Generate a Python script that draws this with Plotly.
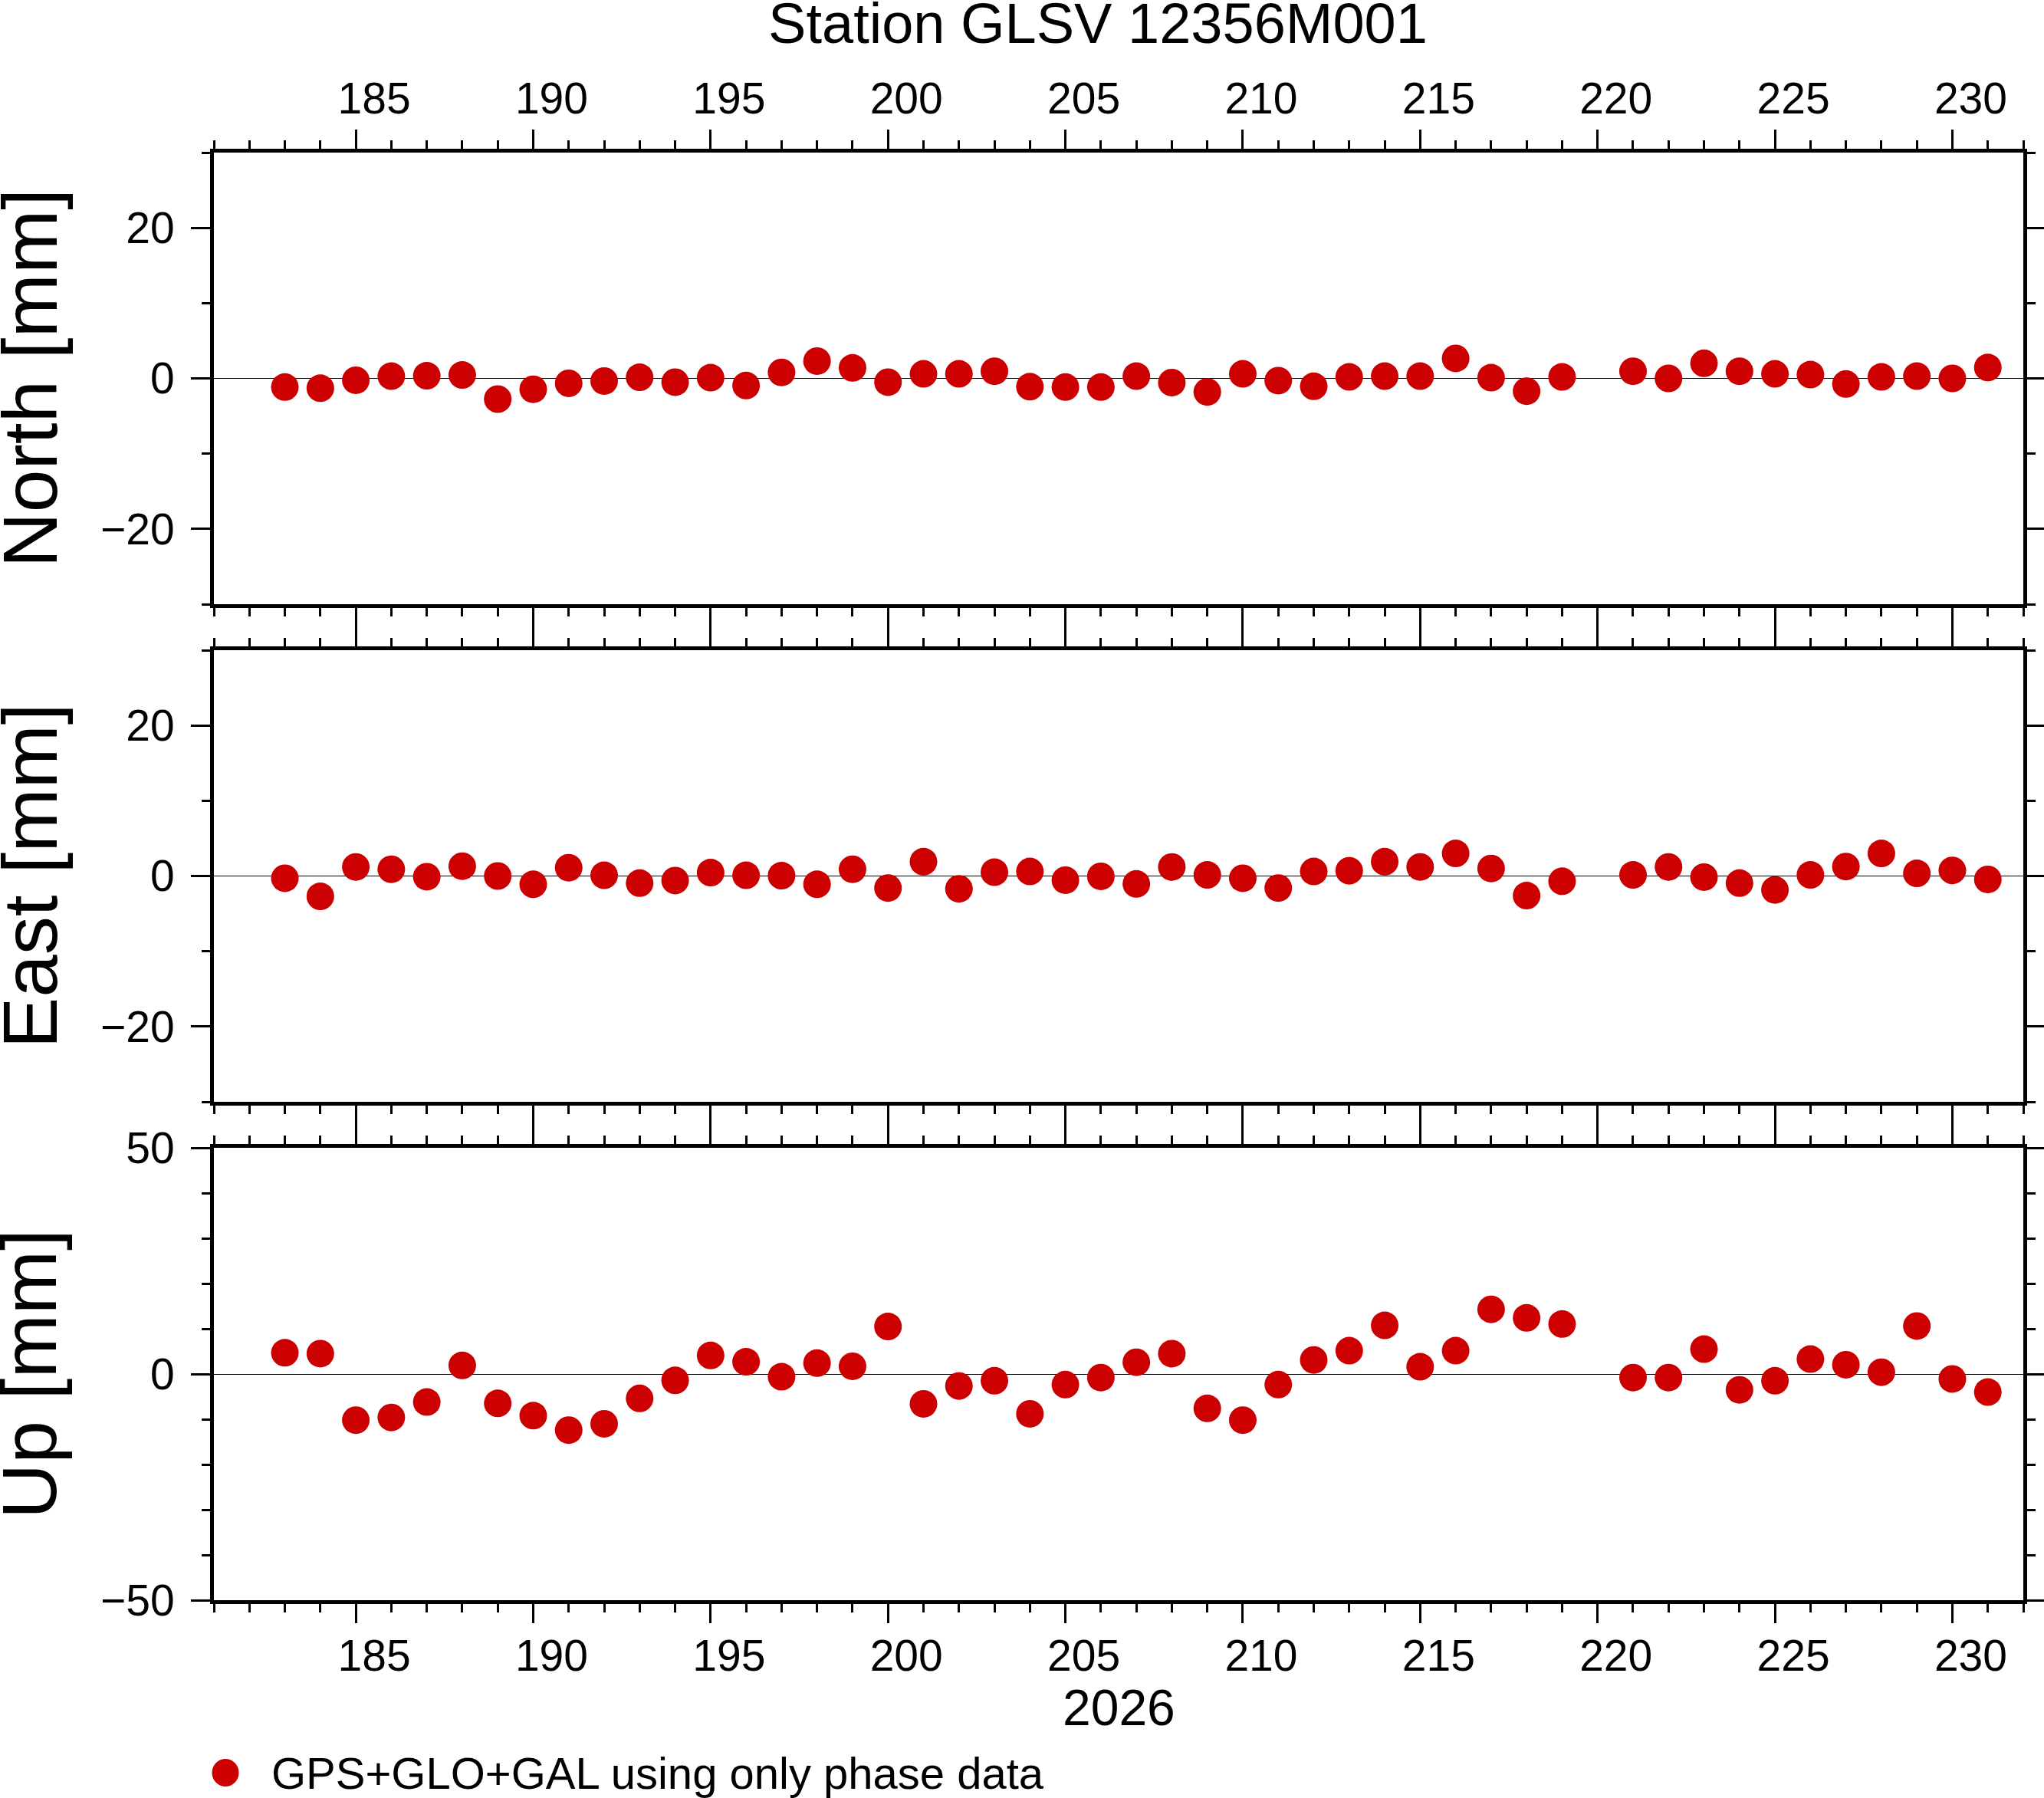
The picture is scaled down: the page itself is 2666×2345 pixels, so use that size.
import plotly.graph_objects as go
from plotly.subplots import make_subplots

# day of year 2026 (day 220 missing)
doy = list(range(183, 220)) + list(range(221, 232))

north = [-1.15, -1.3, -0.25, 0.3, 0.35, 0.45, -2.75, -1.45, -0.65, -0.35,
         0.15, -0.5, 0.1, -0.95, 0.8, 2.3, 1.4, -0.5, 0.6, 0.6,
         0.95, -1.1, -1.15, -1.15, 0.3, -0.55, -1.8, 0.6, -0.3, -1.05,
         0.2, 0.3, 0.3, 2.65, 0.1, -1.7, 0.2,
         0.95, 0.0, 2.0, 0.95, 0.6, 0.5, -0.75, 0.2, 0.3, 0.0, 1.45]

east = [-0.3, -2.7, 1.2, 0.9, -0.1, 1.3, 0.0, -1.1, 1.1, 0.1,
        -0.95, -0.6, 0.45, 0.1, 0.05, -1.1, 0.9, -1.6, 1.9, -1.7,
        0.5, 0.6, -0.55, -0.05, -1.05, 1.2, 0.15, -0.3, -1.6, 0.6,
        0.7, 1.9, 1.2, 3.0, 1.0, -2.6, -0.7,
        0.15, 1.2, -0.15, -0.95, -1.85, 0.15, 1.25, 3.0, 0.35, 0.75, -0.45]

up = [4.7, 4.5, -10.2, -9.6, -6.2, 1.9, -6.5, -9.2, -12.4, -11.0,
      -5.4, -1.4, 4.1, 2.7, -0.6, 2.4, 1.7, 10.5, -6.6, -2.65,
      -1.5, -8.8, -2.35, -0.8, 2.6, 4.5, -7.6, -10.2, -2.35, 3.1,
      5.15, 10.75, 1.6, 5.15, 14.3, 12.4, 11.05,
      -0.8, -0.8, 5.5, -3.5, -1.5, 3.3, 2.05, 0.4, 10.6, -1.1, -4.0]

panel_titles = ["North [mm]", "East [mm]", "Up [mm]"]
panel_ranges = [(-30, 30), (-30, 30), (-50, 50)]
panel_dticks = [20, 20, 50]
series = [north, east, up]

title = "Station GLSV 12356M001"
year_label = "2026"
legend_label = "GPS+GLO+GAL using only phase data"

RED = "#cc0000"
FONT = "Liberation Sans"
W, H = 2666, 2345
L, R, T, B = 279, 27, 199, 258
plot_h = H - T - B
plot_w = W - L - R

# panel pixel extents (top, bottom)
panels_px = [(199, 788), (848, 1437), (1497, 2087)]


def py(p):
    return (H - B - p) / plot_h


def px(p):
    return (p - L) / plot_w


fig = make_subplots(rows=3, cols=1, shared_xaxes=False, vertical_spacing=0.03)

for i, vals in enumerate(series):
    fig.add_trace(
        go.Scatter(
            x=doy, y=vals, mode="markers",
            marker=dict(size=36, color=RED, line=dict(width=0)),
            name=legend_label, showlegend=False,
        ),
        row=i + 1, col=1,
    )

AX = dict(
    showline=True, linewidth=5, linecolor="black", mirror="allticks",
    ticks="outside", ticklen=25, tickwidth=3, tickcolor="black",
    showgrid=False, automargin=False,
    tickfont=dict(family=FONT, size=57, color="black"),
)

for i in range(3):
    n = "" if i == 0 else str(i + 1)
    top, bot = panels_px[i]
    fig.layout[f"xaxis{n}"].update(
        range=[181, 232], tickmode="linear", tick0=185, dtick=5,
        minor=dict(ticks="outside", ticklen=11, tickwidth=3, tickcolor="black",
                   tick0=181, dtick=1, showgrid=False),
        side="top" if i == 0 else "bottom",
        showticklabels=(i != 1), zeroline=False,
        # day labels sit in the middle of the day interval
        ticklabelshift=24,
        ticklabelstandoff=-2 if i == 0 else -6,
        **AX,
    )
    lo, hi = panel_ranges[i]
    fig.layout[f"yaxis{n}"].update(
        range=[lo, hi], tickmode="linear", tick0=0, dtick=panel_dticks[i],
        minor=dict(ticks="outside", ticklen=11, tickwidth=3, tickcolor="black",
                   tick0=0, dtick=10, showgrid=False),
        domain=[py(bot), py(top)],
        zeroline=True, zerolinecolor="black", zerolinewidth=1,
        ticklabelstandoff=10,
        **AX,
    )
    fig.add_annotation(
        text=panel_titles[i], textangle=-90, xref="paper", yref="paper",
        x=px(38), y=py((top + bot) / 2), xanchor="center", yanchor="middle",
        showarrow=False, font=dict(family=FONT, size=100, color="black"),
    )

fig.add_annotation(
    text=year_label, xref="paper", yref="paper", x=0.5, y=py(2227),
    xanchor="center", yanchor="middle", showarrow=False,
    font=dict(family=FONT, size=66, color="black"),
)

# legend key
fig.add_shape(
    type="circle", xref="paper", yref="paper",
    x0=px(294 - 17.5), x1=px(294 + 17.5), y0=py(2312 + 18), y1=py(2312 - 18),
    fillcolor=RED, line=dict(width=0),
)
fig.add_annotation(
    text=legend_label, xref="paper", yref="paper", x=px(352), y=py(2312),
    xanchor="left", yanchor="middle", showarrow=False,
    font=dict(family=FONT, size=58, color="black"),
)

fig.update_layout(
    width=W, height=H,
    margin=dict(l=L, r=R, t=T, b=B, autoexpand=False),
    paper_bgcolor="white", plot_bgcolor="white",
    title=dict(text=title, x=px(1432), xanchor="center", xref="paper",
               y=1 - 30 / H, yanchor="middle", yref="container",
               font=dict(family=FONT, size=74, color="black")),
    showlegend=False,
)

# page margin off so the figure fills the window exactly
fig.write_html("out.html", config={"displayModeBar": False},
               post_script="document.body.style.margin='0px';")
